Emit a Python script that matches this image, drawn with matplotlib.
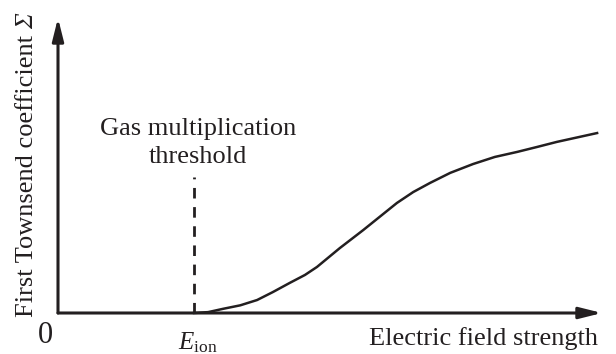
import matplotlib
matplotlib.use('Agg')
import matplotlib.pyplot as plt

plt.rcParams['font.family'] = ['Liberation Serif', 'DejaVu Serif']
plt.rcParams['mathtext.fontset'] = 'custom'
plt.rcParams['mathtext.rm'] = 'Liberation Serif'
plt.rcParams['mathtext.it'] = 'Liberation Serif:italic'

# field strength (arbitrary units) and Townsend coefficient
field = [2.5, 2.76, 3.03, 3.35, 3.66, 3.95, 4.26, 4.54, 4.76, 5.18, 5.61, 6.23, 6.53,
         6.84, 7.21, 7.63, 8.03, 8.44, 8.81, 9.17, 9.54, 9.91]
alpha = [0.0, 0.03, 0.14, 0.26, 0.44, 0.71, 1.02, 1.29, 1.56, 2.20, 2.81, 3.73, 4.10,
         4.41, 4.75, 5.05, 5.29, 5.46, 5.63, 5.80, 5.95, 6.10]
e_ion = 2.5
thresh_top = 4.61

ink = '#231f20'
fig = plt.figure(figsize=(6.16, 3.54), dpi=100)
ax = fig.add_axes([58/616, 41/354, 544/616, 295/354])
ax.set_xlim(0, 10)
ax.set_ylim(0, 10)
ax.axis('off')

arrow = dict(arrowstyle='-|>,head_length=0.8,head_width=0.2', lw=2.2, color=ink,
             mutation_scale=17, shrinkA=0, shrinkB=0)
ax.annotate('', xy=(10, 0), xytext=(0, 0), arrowprops=arrow, annotation_clip=False)
ax.annotate('', xy=(0, 10), xytext=(0, 0), arrowprops=arrow, annotation_clip=False)

ax.plot([e_ion, e_ion], [0, thresh_top], color=ink, lw=2, linestyle=(0, (3.8, 3.1)),
        clip_on=False)
ax.plot(field, alpha, color=ink, lw=1.8, clip_on=False, solid_joinstyle='round')

fs = 19
ax.text(2.57, 6.03, 'Gas multiplication', ha='center', va='baseline', fontsize=fs, color=ink)
ax.text(2.57, 5.08, 'threshold', ha='center', va='baseline', fontsize=fs, color=ink)
ax.text(-0.23, -1.02, '0', ha='center', va='baseline', fontsize=22, color=ink)
ax.text(2.2, -1.25, r'$E_{\mathrm{ion}}$', ha='left', va='baseline', fontsize=18, color=ink)
ax.text(9.93, -1.08, 'Electric field strength', ha='right', va='baseline', fontsize=fs, color=ink)

# y label: plain words, then an italic sigma stacked on top
ylab = ax.text(-0.57, -0.14, 'First Townsend coefficient', rotation=90,
               ha='center', va='bottom', fontsize=fs, color=ink)
fig.canvas.draw()
bb = ylab.get_window_extent()
top = ax.transData.inverted().transform((bb.x0, bb.y1 + 6))[1]
ax.text(-0.57, top, 'Σ', rotation=90, ha='center', va='bottom', fontsize=fs,
        style='italic', color=ink)

fig.savefig('out.png', dpi=100)
